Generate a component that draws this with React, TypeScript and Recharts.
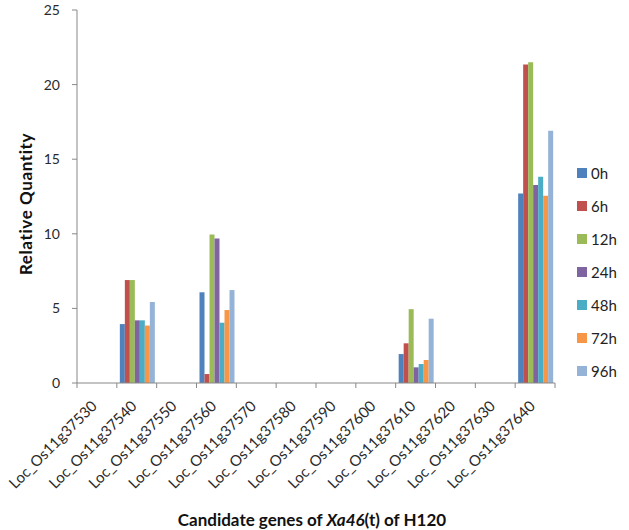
import { BarChart, Bar, XAxis, YAxis } from "recharts";

const categories = [
  "Loc_Os11g37530", "Loc_Os11g37540", "Loc_Os11g37550", "Loc_Os11g37560",
  "Loc_Os11g37570", "Loc_Os11g37580", "Loc_Os11g37590", "Loc_Os11g37600",
  "Loc_Os11g37610", "Loc_Os11g37620", "Loc_Os11g37630", "Loc_Os11g37640",
];
const h0 = [0, 3.95, 0, 6.08, 0, 0, 0, 0, 1.94, 0, 0, 12.7];
const h6 = [0, 6.9, 0, 0.6, 0, 0, 0, 0, 2.66, 0, 0, 21.35];
const h12 = [0, 6.9, 0, 9.95, 0, 0, 0, 0, 4.95, 0, 0, 21.5];
const h24 = [0, 4.2, 0, 9.68, 0, 0, 0, 0, 1.05, 0, 0, 13.27];
const h48 = [0, 4.2, 0, 4.04, 0, 0, 0, 0, 1.27, 0, 0, 13.83];
const h72 = [0, 3.85, 0, 4.89, 0, 0, 0, 0, 1.54, 0, 0, 12.55];
const h96 = [0, 5.43, 0, 6.23, 0, 0, 0, 0, 4.31, 0, 0, 16.9];
const yTicks = [0, 5, 10, 15, 20, 25];

const series = [
  { key: "0h", values: h0, color: "#4F81BD" },
  { key: "6h", values: h6, color: "#C0504D" },
  { key: "12h", values: h12, color: "#9BBB59" },
  { key: "24h", values: h24, color: "#8064A2" },
  { key: "48h", values: h48, color: "#4BACC6" },
  { key: "72h", values: h72, color: "#F79646" },
  { key: "96h", values: h96, color: "#95B3D7" },
];

const data = categories.map((name, i) => {
  const row: Record<string, string | number> = { name };
  series.forEach((s) => (row[s.key] = s.values[i]));
  return row;
});

const font = "Lato, 'Open Sans', sans-serif";
const axisColor = "#888888";
const left = 77;
const right = 555;
const band = (right - left) / categories.length;

function XTick({ x, y, payload, index }: any) {
  const tx = x + 1;
  const ty = y + 24;
  return (
    <g>
      <line x1={x - band / 2} x2={x - band / 2} y1={y} y2={y + 5} stroke={axisColor} />
      {index === categories.length - 1 && (
        <line x1={x + band / 2} x2={x + band / 2} y1={y} y2={y + 5} stroke={axisColor} />
      )}
      <text
        x={tx}
        y={ty}
        transform={`rotate(-45, ${tx}, ${ty})`}
        textAnchor="end"
        fontSize={15}
        fill="#2a2a2a"
        fontFamily={font}
      >
        {payload.value}
      </text>
    </g>
  );
}

function LegendBox() {
  return (
    <div
      style={{
        position: "absolute",
        left: 577,
        top: 156,
        fontFamily: font,
        fontSize: 15,
        color: "#222",
      }}
    >
      {series.map((s) => (
        <div key={s.key} style={{ display: "flex", alignItems: "center", height: 33 }}>
          <span style={{ width: 10, height: 10, background: s.color, marginRight: 4 }} />
          <span>{s.key}</span>
        </div>
      ))}
    </div>
  );
}

export default function App() {
  return (
    <div style={{ position: "relative", width: 629, height: 530, background: "#fff" }}>
      <style>{`body{margin:0}`}</style>
      <BarChart
        width={629}
        height={530}
        data={data}
        margin={{ top: 10, right: 629 - right, left: 37, bottom: 0 }}
        barCategoryGap={3}
        barGap={0}
      >
        <XAxis
          dataKey="name"
          interval={0}
          height={147}
          tickSize={0}
          tickMargin={0}
          tickLine={false}
          stroke={axisColor}
          tick={<XTick />}
        />
        <YAxis
          width={40}
          domain={[0, 25]}
          ticks={yTicks}
          tickSize={5}
          tickMargin={12}
          stroke={axisColor}
          tick={{ fontSize: 14, fill: "#2a2a2a", fontFamily: font }}
        />
        {series.map((s) => (
          <Bar key={s.key} dataKey={s.key} fill={s.color} isAnimationActive={false} />
        ))}
      </BarChart>
      <LegendBox />
      <div
        style={{
          position: "absolute",
          left: 25,
          top: 204,
          transform: "translate(-50%, -50%) rotate(-90deg)",
          whiteSpace: "nowrap",
          fontFamily: font,
          fontWeight: 700,
          fontSize: 17,
          letterSpacing: 0.6,
          color: "#111",
        }}
      >
        Relative Quantity
      </div>
      <div
        style={{
          position: "absolute",
          left: 312,
          top: 519,
          transform: "translate(-50%, -50%)",
          whiteSpace: "nowrap",
          fontFamily: font,
          fontWeight: 700,
          fontSize: 17,
          color: "#111",
        }}
      >
        Candidate genes of <i>Xa46</i>(t) of H120
      </div>
    </div>
  );
}
